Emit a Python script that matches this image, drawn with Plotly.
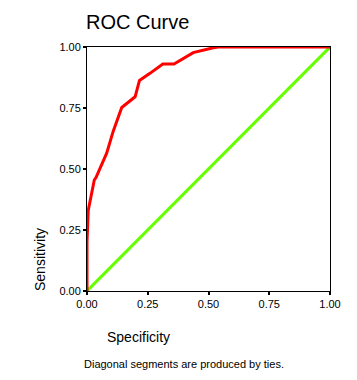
import plotly.graph_objects as go

# ROC curve points (specificity axis as labelled, sensitivity)
roc_x = [0.0, 0.0, 0.005, 0.030, 0.037, 0.060, 0.081, 0.108, 0.143, 0.198, 0.216, 0.259, 0.312, 0.358, 0.437, 0.52, 0.54, 1.0]
roc_y = [0.0, 0.20, 0.33, 0.455, 0.465, 0.515, 0.565, 0.655, 0.752, 0.796, 0.863, 0.892, 0.930, 0.930, 0.977, 0.997, 1.0, 1.0]
ref_x = [0.0, 1.0]
ref_y = [0.0, 1.0]
tick_vals = [0.0, 0.25, 0.5, 0.75, 1.0]
tick_text = ["0.00", "0.25", "0.50", "0.75", "1.00"]

OFF = 8  # default page body margin
W, H = 357 - OFF, 380 - OFF
# target page coordinates of plot box: x 87..330, y 47..291
L, T = 87 - OFF, 47 - OFF
R = W - (330 - OFF)
B = H - (291 - OFF)
PW, PH = W - L - R, H - T - B
font = "Liberation Sans, Arial, sans-serif"


def px_x(px):
    return (px - OFF - L) / PW


def px_y(py):
    return (H - B - (py - OFF)) / PH


fig = go.Figure()
fig.add_trace(go.Scatter(x=ref_x, y=ref_y, mode="lines",
                         line=dict(color="#66ff00", width=3), cliponaxis=False,
                         hoverinfo="skip"))
fig.add_trace(go.Scatter(x=roc_x, y=roc_y, mode="lines",
                         line=dict(color="#ff0000", width=3), cliponaxis=False))

axis_common = dict(range=[0, 1], showgrid=False, zeroline=False,
                   showline=True, linecolor="black", linewidth=1, mirror=True,
                   ticks="outside", ticklen=3, tickwidth=2, tickcolor="black",
                   tickvals=tick_vals, ticktext=tick_text,
                   tickfont=dict(family=font, size=11, color="black"))
fig.update_xaxes(**axis_common)
fig.update_yaxes(**axis_common)

fig.update_layout(
    width=W, height=H,
    margin=dict(l=L, r=R, t=T, b=B, pad=0),
    paper_bgcolor="white", plot_bgcolor="white",
    showlegend=False,
    font=dict(family=font, color="black"),
    title=dict(text="ROC Curve", xref="container", yref="container",
               x=(86 - OFF) / W, xanchor="left", y=1 - (22 - OFF) / H, yanchor="middle",
               font=dict(size=20, family=font, color="black")),
    annotations=[
        dict(text="Specificity", xref="paper", yref="paper",
             x=px_x(138), y=px_y(337),
             xanchor="center", yanchor="middle", showarrow=False,
             font=dict(size=14, family=font, color="black")),
        dict(text="Sensitivity", xref="paper", yref="paper",
             x=px_x(40), y=px_y(260),
             xanchor="center", yanchor="middle", textangle=-90, showarrow=False,
             font=dict(size=14, family=font, color="black")),
        dict(text="Diagonal segments are produced by ties.", xref="paper", yref="paper",
             x=px_x(184), y=px_y(364),
             xanchor="center", yanchor="middle", showarrow=False,
             font=dict(size=11, family=font, color="black")),
    ],
)

fig.write_html("out.html")
